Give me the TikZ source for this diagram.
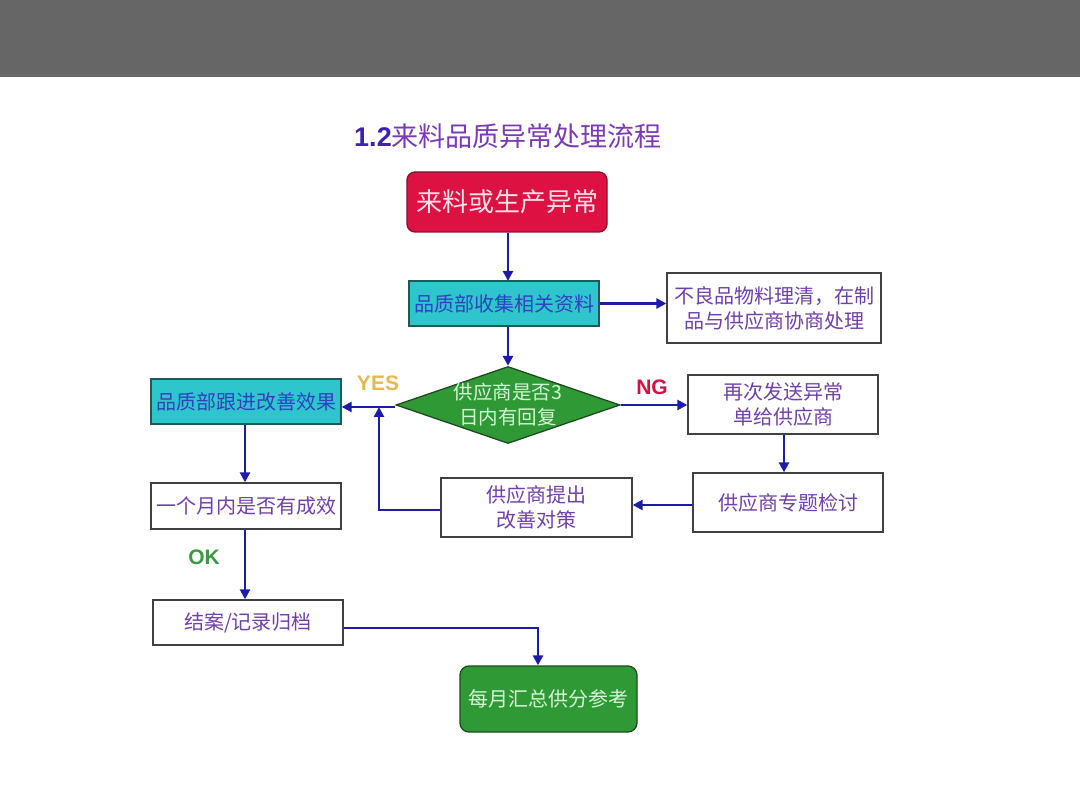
\documentclass[tikz,border=0pt]{standalone}
\usepackage{fontspec}
\setmainfont{Liberation Sans}
\newfontfamily\cjk{Noto Sans CJK SC}
\usetikzlibrary{arrows.meta,shapes.geometric}
\definecolor{barg}{HTML}{666666}
\definecolor{txtp}{HTML}{7040A8}
\definecolor{txtb}{HTML}{3040C0}
\definecolor{arr}{HTML}{1C1CA8}
\definecolor{redf}{HTML}{DE1242}
\definecolor{redb}{HTML}{8A1030}
\definecolor{cyanf}{HTML}{2EC6CC}
\definecolor{cyanb}{HTML}{205858}
\definecolor{greenf}{HTML}{2F9A35}
\definecolor{greenb}{HTML}{1E4A20}
\definecolor{titleb}{HTML}{4020B0}
\definecolor{titlep}{HTML}{7A3AB4}
\definecolor{yesc}{HTML}{E8B850}
\definecolor{ngc}{HTML}{D81040}
\definecolor{okc}{HTML}{3A9A40}
\definecolor{lgreen}{HTML}{D8F5D8}
\definecolor{lpink}{HTML}{FFE0E8}
\tikzset{
  boxw/.style={draw=black!75, line width=1.3pt, fill=white, text=txtp, align=center, inner sep=0pt,
    font=\cjk\fontsize{20}{25}\selectfont},
  boxc/.style={boxw, fill=cyanf, draw=cyanb, text=txtb},
  boxr/.style={draw=redb, line width=1.3pt, fill=redf, rounded corners=8pt, text=lpink, align=center,
    inner sep=0pt, font=\cjk\fontsize{26}{30}\selectfont},
  boxg/.style={draw=greenb, line width=1.3pt, fill=greenf, rounded corners=9pt, text=lgreen,
    align=center, inner sep=0pt, font=\cjk\fontsize{20}{25}\selectfont},
  conn/.style={draw=arr, line width=2.8pt, -{Triangle[length=10pt,width=10pt]}},
  lbl/.style={font=\bfseries\fontsize{21}{25}\selectfont},
}
\begin{document}
\begin{tikzpicture}[x=1pt,y=-1pt]
\useasboundingbox (0,0) rectangle (1080,810);
\fill[white] (0,0) rectangle (1080,810);
\fill[barg] (0,0) rectangle (1080,77);

\node (title) at (508,136) {\fontsize{27}{30}\selectfont{\bfseries\color{titleb}1.2}{\cjk\color{titlep}来料品质异常处理流程}};

\node[boxr, minimum width=200pt, minimum height=60pt] (red) at (507,202) {来料或生产异常};
\node[boxc, minimum width=190pt, minimum height=45pt] (q1) at (504,303.5) {品质部收集相关资料};
\node[boxw, minimum width=214pt, minimum height=70pt] (side) at (774,308) {不良品物料理清，在制\\品与供应商协商处理};
\node[diamond, draw=greenb, line width=1.3pt, fill=greenf, minimum width=224pt, minimum height=77pt, inner sep=0pt] (dia) at (508,405) {};
\node[align=center, text=lgreen, font=\cjk\fontsize{19.5}{25}\selectfont] (diat) at (508,405) {供应商是否3\\日内有回复};
\node[boxw, minimum width=190pt, minimum height=59pt] (resend) at (783,404.5) {再次发送异常\\单给供应商};
\node[boxw, minimum width=190pt, minimum height=59pt] (review) at (788,502.5) {供应商专题检讨};
\node[boxw, minimum width=191pt, minimum height=59pt] (propose) at (536.5,507.5) {供应商提出\\改善对策};
\node[boxc, minimum width=190pt, minimum height=45pt] (follow) at (246,401.5) {品质部跟进改善效果};
\node[boxw, minimum width=190pt, minimum height=46pt] (month) at (246,506) {一个月内是否有成效};
\node[boxw, minimum width=190pt, minimum height=45pt] (close) at (248,622.5) {结案/记录归档};
\node[boxg, minimum width=177pt, minimum height=66pt] (monthly) at (548.5,699) {每月汇总供分参考};

\node[lbl, text=yesc] (yes) at (378,383) {YES};
\node[lbl, text=ngc] (ng) at (652,387) {NG};
\node[lbl, text=okc] (ok) at (204,557) {OK};

\coordinate (yesj) at (379,407);
\coordinate (mj) at (538,628);

\draw[conn] (red.south -| 508,0) -- (508,281);
\draw[conn] (q1.east) -- (side.west |- q1.east);
\draw[conn] (q1.south -| dia.north) -- (dia.north);
\draw[conn] (dia.east) -- (resend.west |- dia.east);
\draw[conn] (resend.south -| 784,0) -- (review.north -| 784,0);
\draw[conn] (review.west |- 0,505) -- (propose.east |- 0,505);
\draw[conn] (propose.west |- 0,510) -| (yesj);
\draw[conn] (dia.west |- 0,407) -- (follow.east |- 0,407);
\draw[conn] (follow.south -| 245,0) -- (month.north -| 245,0);
\draw[conn] (month.south -| 245,0) -- (close.north -| 245,0);
\draw[conn] (close.east |- mj) -- (mj) -- (monthly.north -| mj);
\end{tikzpicture}
\end{document}
